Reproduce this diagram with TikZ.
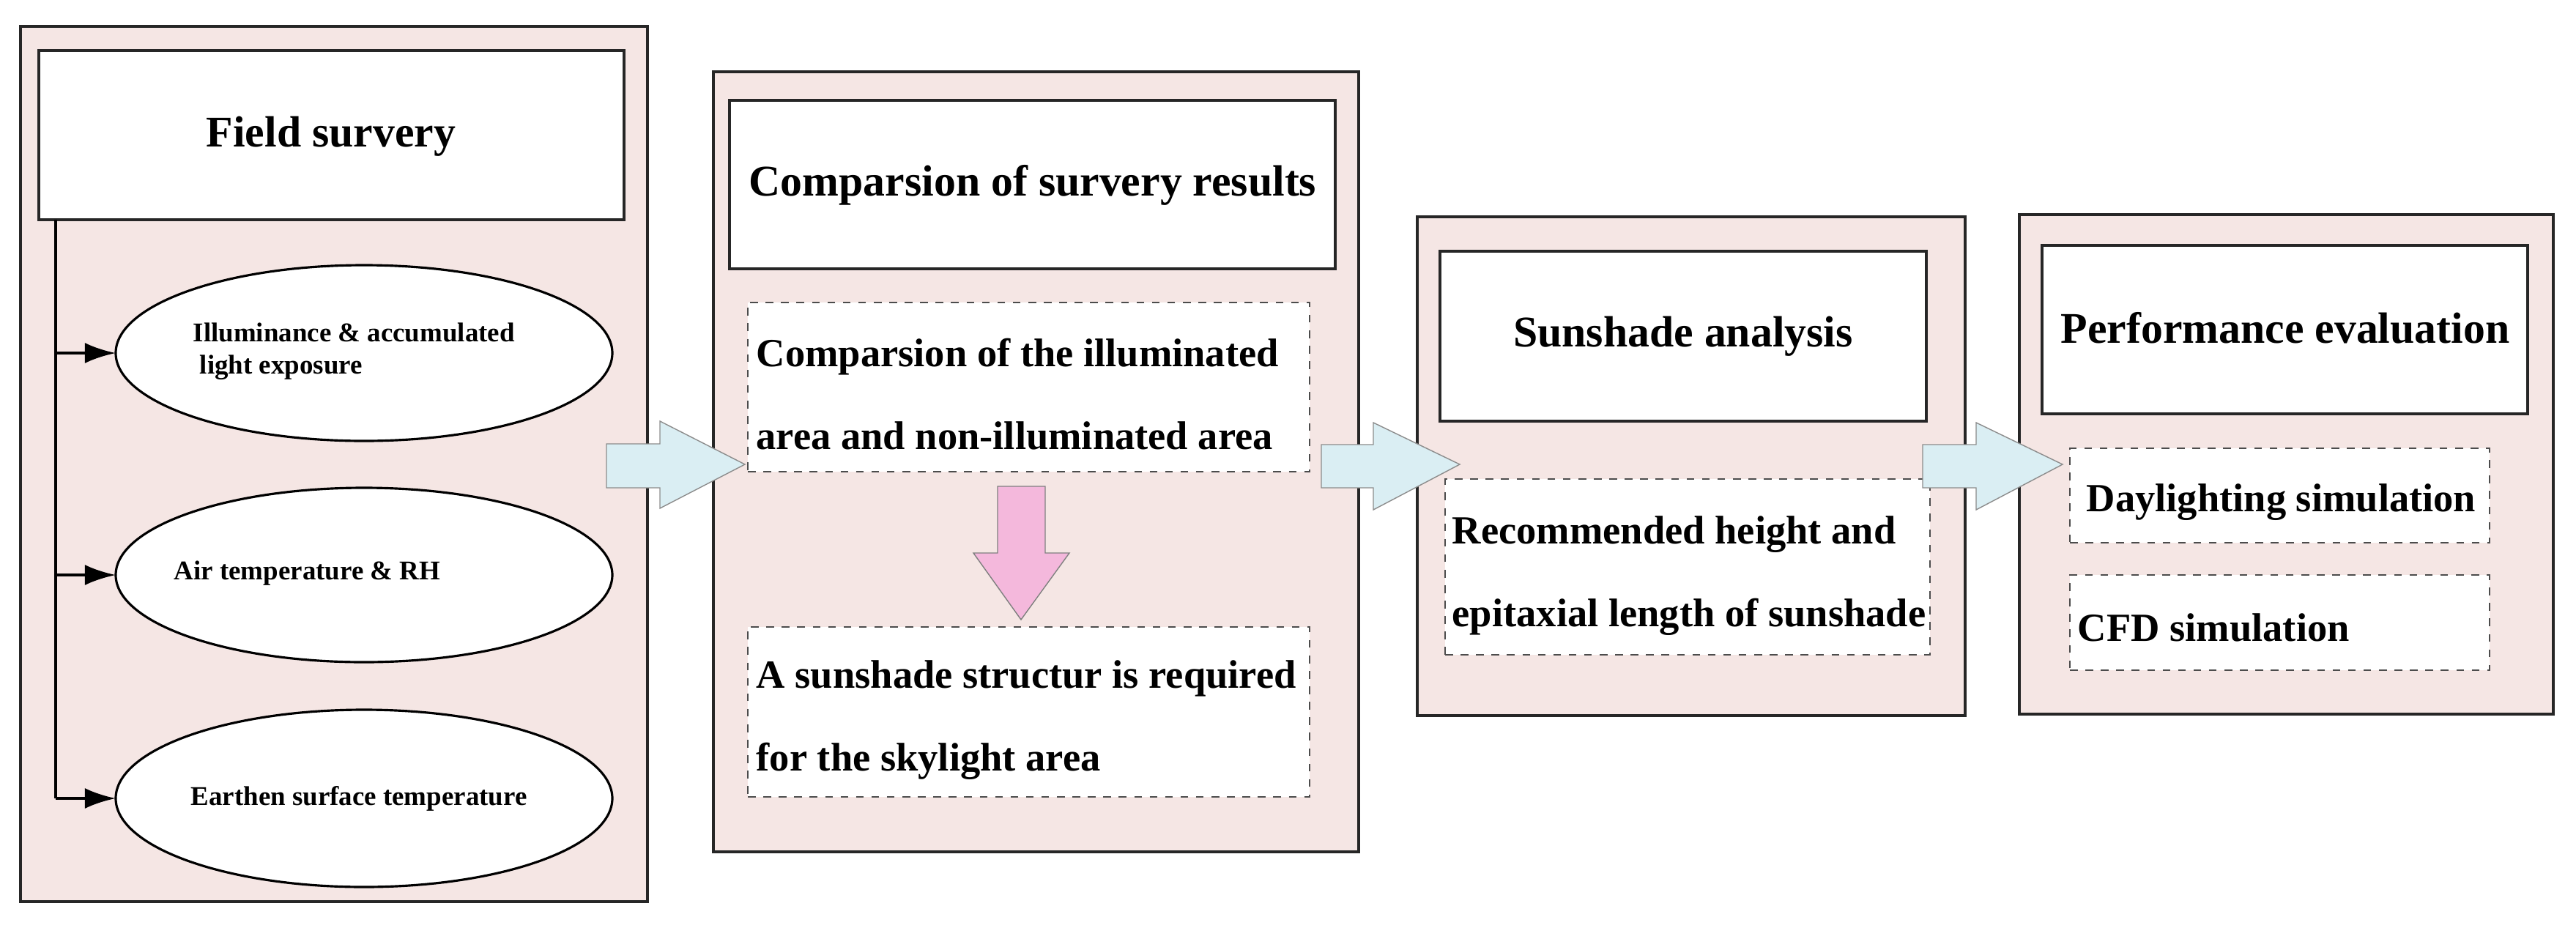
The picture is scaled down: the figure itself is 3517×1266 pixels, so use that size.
\documentclass[tikz,border=0pt]{standalone}
\usepackage{fontspec}
\setmainfont{Liberation Serif}
\usetikzlibrary{fit,arrows.meta}
\definecolor{pk}{HTML}{F5E6E4}
\definecolor{bl}{HTML}{DAEEF3}
\definecolor{pa}{HTML}{F4B8DC}
\begin{document}
\begin{tikzpicture}[x=0.01cm,y=-0.01cm,
 panel/.style={draw=black!85,line width=1.1pt,fill=pk,inner sep=0pt},
 tbox/.style={draw=black!85,line width=1.3pt,fill=white,inner sep=0pt},
 ttxt/.style={inner sep=0pt,font=\fontsize{17}{20}\selectfont\bfseries},
 dbox/.style={draw=black!70,dashed,line width=0.5pt,fill=white,inner sep=0pt},
 txt/.style={anchor=west,inner sep=0pt,font=\fontsize{15.5}{18}\selectfont\bfseries},
 etxt/.style={anchor=west,inner sep=0pt,font=\fontsize{10.5}{12.5}\selectfont\bfseries},
 ell/.style={draw=black,line width=0.9pt,fill=white},
 blk/.style={fill=bl,draw=black!45,line width=0.4pt},
 con/.style={line width=1.2pt,-{Latex[length=12pt,width=8pt]}}]
\useasboundingbox (0,0) rectangle (3517,1266);
% panel 1
\node[panel,fit={(28,36)(884,1231)}] (p1) {};
\node[tbox,fit={(53,69)(852,300)}] (t1) {};
\node[ttxt] at (452,186) (t1t) {Field survery};
\draw[ell] (497,482) ellipse (339 and 120); \coordinate (e1) at (158,482);
\draw[ell] (497,785) ellipse (339 and 119); \coordinate (e2) at (158,785);
\draw[ell] (497,1090) ellipse (339 and 121); \coordinate (e3) at (158,1090);
\node[etxt,align=left] (l1) at (263,480) {Illuminance \& accumulated\\\ light exposure};
\node[etxt] (l2) at (237,783) {Air temperature \& RH};
\node[etxt] (l3) at (260,1090) {Earthen surface temperature};
\coordinate (v0) at (76,300); \coordinate (v1) at (76,482); \coordinate (v2) at (76,785); \coordinate (v3) at (76,1090);
\draw[line width=1.2pt] (v0) -- (v3);
\draw[con] (v1) -- (e1);
\draw[con] (v2) -- (e2);
\draw[con] (v3) -- (e3);
% panel 2
\node[panel,fit={(974,98)(1855,1163)}] (p2) {};
\node[tbox,fit={(996,137)(1823,367)}] (t2) {};
\node[ttxt] (t2t) at (1410,253) {Comparsion of survery results};
\node[dbox,fit={(1021,413)(1788,644)}] (d2a) {};
\node[txt,align=left] (d2at) at (1032,538) {Comparsion of the illuminated\\[14pt]area and non-illuminated area};
\node[dbox,fit={(1021,856)(1788,1088)}] (d2b) {};
\node[txt,align=left] (d2bt) at (1032,983) {A sunshade structur is required\\[14pt]for the skylight area};
\draw[fill=pa,draw=black!50,line width=0.4pt] (1362,664) -- (1427,664) -- (1427,755) -- (1460,755) -- (1394,846) -- (1329,755) -- (1362,755) -- cycle;
% panel 3
\node[panel,fit={(1935,296)(2683,977)}] (p3) {};
\node[tbox,fit={(1966,343)(2630,575)}] (t3) {};
\node[ttxt] (t3t) at (2298,459) {Sunshade analysis};
\node[dbox,fit={(1973,654)(2635,894)}] (d3) {};
\node[txt,align=left] (d3t) at (1982,786) {Recommended height and\\[14pt]epitaxial length of sunshade};
% panel 4
\node[panel,fit={(2757,293)(3486,975)}] (p4) {};
\node[tbox,fit={(2788,335)(3451,565)}] (t4) {};
\node[ttxt] (t4t) at (3120,448) {Performance evaluation};
\node[dbox,fit={(2826,612)(3399,741)}] (d4a) {};
\node[txt] (d4at) at (2848,686) {Daylighting simulation};
\node[dbox,fit={(2826,785)(3399,915)}] (d4b) {};
\node[txt] (d4bt) at (2836,857) {CFD simulation};
% block arrows
\draw[blk] (828,606) -- (901,606) -- (901,575) -- (1017,634) -- (901,694) -- (901,666) -- (828,666) -- cycle;
\draw[blk] (1804,607) -- (1875,607) -- (1875,577) -- (1993,634) -- (1875,696) -- (1875,666) -- (1804,666) -- cycle;
\draw[blk] (2625,607) -- (2698,607) -- (2698,577) -- (2816,634) -- (2698,696) -- (2698,666) -- (2625,666) -- cycle;
\end{tikzpicture}
\end{document}
